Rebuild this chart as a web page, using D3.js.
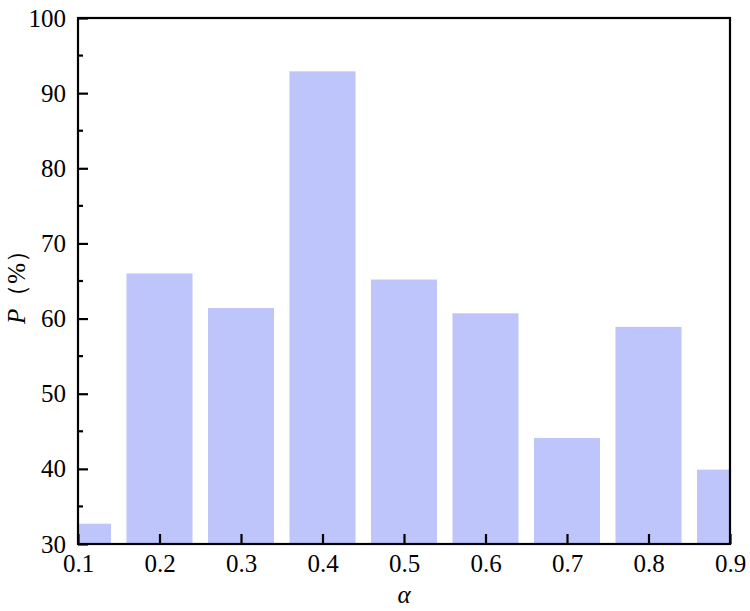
<!DOCTYPE html>
<html>
<head>
<meta charset="utf-8">
<script src="https://d3js.org/d3.v7.min.js"></script>
<style>
  body { margin: 0; background: #fff; }
  svg text { font-family: 'Liberation Serif', 'Times New Roman', Times, serif; font-size: 25px; fill: #000; }
</style>
</head>
<body>
<svg></svg>
<script>
// alpha values and percentages
const alphas = [0.1, 0.2, 0.3, 0.4, 0.5, 0.6, 0.7, 0.8, 0.9]
const percents = [32.7, 66.0, 61.4, 92.9, 65.2, 60.7, 44.1, 58.9, 39.9]
const yTicks = [30, 40, 50, 60, 70, 80, 90, 100]
const yMinorTicks = [35, 45, 55, 65, 75, 85, 95]

const margin = {top: 18, right: 20, bottom: 67, left: 78}
const width = 750 - margin.left - margin.right
const height = 611 - margin.top - margin.bottom

const svg = d3.select('svg')
    .attr('width', 750)
    .attr('height', 611)

const g = svg.append('g')
    .attr('transform', `translate(${margin.left}, ${margin.top})`)

const x = d3.scaleLinear().domain([0.1, 0.9]).range([0, width])
const y = d3.scaleLinear().domain([30, 100]).range([height, 0])

const barW = (x(0.2) - x(0.1)) * 0.81

g.append('clipPath')
    .attr('id', 'plot-clip')
    .append('rect')
    .attr('width', width)
    .attr('height', height)

// bars
g.append('g')
    .attr('clip-path', 'url(#plot-clip)')
    .selectAll('rect')
    .data(alphas)
    .join('rect')
        .attr('x', (d) => x(d) - barW / 2)
        .attr('y', (d, i) => y(percents[i]))
        .attr('width', barW)
        .attr('height', (d, i) => height - y(percents[i]))
        .attr('fill', '#bdc5fb')

// frame
g.append('rect')
    .attr('width', width)
    .attr('height', height)
    .attr('fill', 'none')
    .attr('stroke', '#000')
    .attr('stroke-width', 2.2)

// y axis
const yAxis = g.append('g')
    .call(d3.axisLeft(y).tickValues(yTicks).tickSizeInner(-10).tickSizeOuter(0).tickPadding(12))
yAxis.select('.domain').remove()
yAxis.selectAll('line').attr('stroke-width', 2.2)

g.append('g')
    .selectAll('line')
    .data(yMinorTicks)
    .join('line')
        .attr('x1', 0)
        .attr('x2', 5)
        .attr('y1', (d) => y(d))
        .attr('y2', (d) => y(d))
        .attr('stroke', '#000')
        .attr('stroke-width', 2.2)

// x axis
const xAxis = g.append('g')
    .attr('transform', `translate(0, ${height})`)
    .call(d3.axisBottom(x).tickValues(alphas).tickFormat(d3.format('.1f'))
        .tickSizeInner(-10).tickSizeOuter(0).tickPadding(10))
xAxis.select('.domain').remove()
xAxis.selectAll('line').attr('stroke-width', 2.2)

// axis titles
svg.append('text')
    .attr('x', margin.left + width / 2)
    .attr('y', 603)
    .attr('text-anchor', 'middle')
    .style('font-style', 'italic')
    .text('α')

const yTitle = svg.append('text')
    .attr('transform', `translate(25, ${margin.top + height / 2}) rotate(-90)`)
    .attr('text-anchor', 'middle')
yTitle.append('tspan').style('font-style', 'italic').text('P')
yTitle.append('tspan').text('（%）')
</script>
</body>
</html>
